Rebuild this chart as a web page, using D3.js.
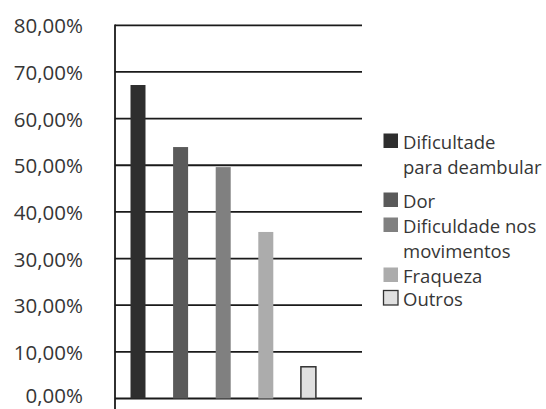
<!DOCTYPE html>
<html>
<head>
<meta charset="utf-8">
<script src="https://cdn.jsdelivr.net/npm/d3@7"></script>
<style>
  html, body { margin: 0; padding: 0; background: #fff; }
  svg { display: block; }
  text { font-family: "Open Sans", "DejaVu Sans", sans-serif; fill: #363636; }
</style>
</head>
<body>
<svg id="chart" width="546" height="409"></svg>
<script>
// Motivos relatados (percentual de respostas)
const categories = ["Dificultade para deambular", "Dor", "Dificuldade nos movimentos", "Fraqueza", "Outros"];
const values = [67.2, 53.9, 49.6, 35.7, 6.8];
const colors = ["#2e2e2e", "#5a5a5a", "#808080", "#acacac", "#e0e0e0"];
const tickValues = [0, 10, 20, 30, 40, 50, 60, 70, 80];
const tickLabels = ["0,00%", "10,00%", "30,00%", "30,00%", "40,00%", "50,00%", "60,00%", "70,00%", "80,00%"];
const legendLines = [["Dificultade", "para deambular"], ["Dor"], ["Dificuldade nos", "movimentos"], ["Fraqueza"], ["Outros"]];

const svg = d3.select("#chart");

const plot = { left: 115, right: 362, top: 25.3, bottom: 398.5 };

const y = d3.scaleLinear().domain([0, 80]).range([plot.bottom, plot.top]);
const x = d3.scaleBand()
  .domain(categories)
  .range([116.7, 329.7])
  .paddingInner(0.648)
  .paddingOuter(0.324);

// horizontal gridlines
svg.append("g")
  .selectAll("line")
  .data(tickValues)
  .join("line")
  .attr("x1", plot.left)
  .attr("x2", plot.right)
  .attr("y1", d => y(d))
  .attr("y2", d => y(d))
  .attr("stroke", "#1a1a1a")
  .attr("stroke-width", 1.8);

// y tick labels (the lowest one is nudged up so it stays inside the frame)
svg.append("g")
  .selectAll("text")
  .data(tickValues)
  .join("text")
  .attr("x", 83)
  .attr("y", d => y(d) - (d === 0 ? 4 : 0))
  .attr("text-anchor", "end")
  .attr("dominant-baseline", "central")
  .style("font-size", "20.5px")
  .text((d, i) => tickLabels[i]);

// bars
svg.append("g")
  .selectAll("rect")
  .data(values)
  .join("rect")
  .attr("x", (d, i) => x(categories[i]))
  .attr("y", d => y(d))
  .attr("width", x.bandwidth())
  .attr("height", d => y(0) - y(d))
  .attr("fill", (d, i) => colors[i])
  .attr("stroke", (d, i) => i === 4 ? "#333" : "none")
  .attr("stroke-width", 1.5);

// vertical axis line
svg.append("line")
  .attr("x1", plot.left).attr("x2", plot.left)
  .attr("y1", plot.top - 0.9).attr("y2", 409)
  .attr("stroke", "#1a1a1a")
  .attr("stroke-width", 1.8);

// legend
const legendTop = [141, 200, 225, 275, 298];
const legend = svg.append("g");
categories.forEach((c, i) => {
  const cy = legendTop[i];
  legend.append("rect")
    .attr("x", 383.5)
    .attr("y", cy - 7.5)
    .attr("width", 14.5)
    .attr("height", 14.5)
    .attr("fill", colors[i])
    .attr("stroke", i === 4 ? "#333" : "none")
    .attr("stroke-width", 1.3);
  legendLines[i].forEach((line, j) => {
    legend.append("text")
      .attr("x", 403)
      .attr("y", cy + j * 25)
      .attr("dominant-baseline", "central")
      .style("font-size", "18.5px")
      .text(line);
  });
});
</script>
</body>
</html>
